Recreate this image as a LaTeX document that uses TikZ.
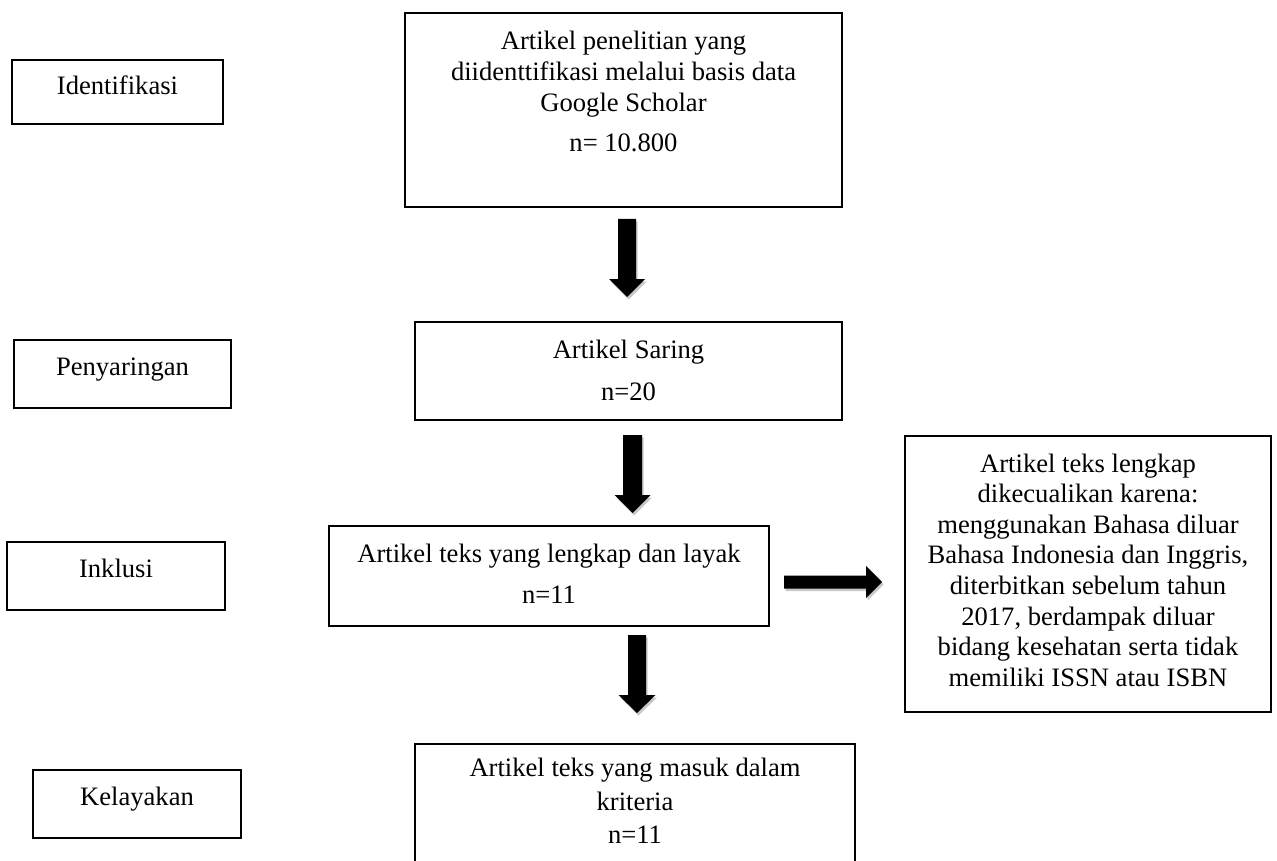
\documentclass[tikz,border=0pt]{standalone}
\usepackage{fontspec}
\setmainfont{Liberation Serif}
\usetikzlibrary{fit}
\newcommand\mlines[1]{\begin{tabular}[t]{@{}c@{}}#1\end{tabular}}
% vertical block arrow: cx, top, headstart, tip, shafthalf, headhalf
\newcommand\varrow[6]{%
  \fill[shd,shift={(1.5,2.5)}] (#1-#5,#2) -- (#1+#5,#2) -- (#1+#5,#3) -- (#1+#6,#3) -- (#1,#4) -- (#1-#6,#3) -- (#1-#5,#3) -- cycle;
  \fill[blk] (#1-#5,#2) -- (#1+#5,#2) -- (#1+#5,#3) -- (#1+#6,#3) -- (#1,#4) -- (#1-#6,#3) -- (#1-#5,#3) -- cycle;}
% horizontal block arrow: cy, left, headstart, tip, shafthalf, headhalf
\newcommand\harrow[6]{%
  \fill[shd,shift={(1.5,2.5)}] (#2,#1-#5) -- (#3,#1-#5) -- (#3,#1-#6) -- (#4,#1) -- (#3,#1+#6) -- (#3,#1+#5) -- (#2,#1+#5) -- cycle;
  \fill[blk] (#2,#1-#5) -- (#3,#1-#5) -- (#3,#1-#6) -- (#4,#1) -- (#3,#1+#6) -- (#3,#1+#5) -- (#2,#1+#5) -- cycle;}
\begin{document}
\begin{tikzpicture}[x=1pt,y=-1pt,
  box/.style={draw=black, line width=1.1pt, inner sep=0pt, outer sep=0pt},
  txt/.style={font=\fontsize{26.6}{30.6}\selectfont, inner sep=0pt, anchor=base},
  blk/.style={fill=black},
  shd/.style={fill=black, opacity=0.22}]
\useasboundingbox (0,0) rectangle (1277,861);
\clip (0,0) rectangle (1277,861);
\fill[white] (0,0) rectangle (1277,861);

% left stage labels
\node[box, fit={(12,60) (223,124)}] (lid) {};
\node[txt] (tid) at (117.5,95) {Identifikasi};
\node[box, fit={(14,340) (231,408)}] (lpe) {};
\node[txt] (tpe) at (122.5,375) {Penyaringan};
\node[box, fit={(7,542) (225,610)}] (lin) {};
\node[txt] (tin) at (116,577) {Inklusi};
\node[box, fit={(33,770) (241,838)}] (lke) {};
\node[txt] (tke) at (137,805) {Kelayakan};

% main flow boxes
\node[box, fit={(405,13) (842,207)}] (b1) {};
\node[txt] (t1) at (623.5,50) {\mlines{Artikel penelitian yang\\ diidenttifikasi melalui basis data\\ Google Scholar\\[10.2pt] n= 10.800}};

\node[box, fit={(415,322) (842,420)}] (b2) {};
\node[txt] (t2) at (628.5,358) {\mlines{Artikel Saring\\[11.4pt] n=20}};

\node[box, fit={(329,526) (769,626)}] (b3) {};
\node[txt] (t3) at (549,562) {\mlines{Artikel teks yang lengkap dan layak\\[10.4pt] n=11}};

\node[box, fit={(415,744) (855,880)}] (b4) {};
\node[txt] (t4) at (635,776) {\mlines{Artikel teks yang masuk dalam\\[3.4pt] kriteria\\[2.4pt] n=11}};

% exclusion box
\node[box, fit={(905,436) (1271,712)}] (b5) {};
\node[txt] (t5) at (1088,472) {\mlines{Artikel teks lengkap\\ dikecualikan karena:\\ menggunakan Bahasa diluar\\ Bahasa Indonesia dan Inggris,\\ diterbitkan sebelum tahun\\ 2017, berdampak diluar\\ bidang kesehatan serta tidak\\ memiliki ISSN atau ISBN}};

% block arrows
\varrow{627}{219}{279}{297}{9}{18}
\varrow{632.5}{435}{495}{513}{9.5}{18}
\varrow{637}{635}{695}{713}{9}{18.5}
\harrow{582}{784}{866}{882}{6.5}{16}
\end{tikzpicture}
\end{document}
